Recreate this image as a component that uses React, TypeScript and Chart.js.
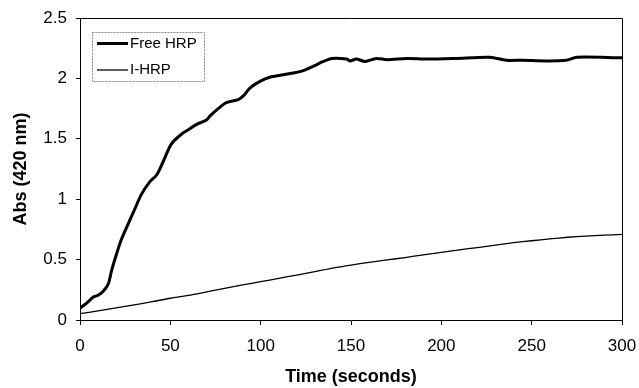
import React, { useEffect, useRef } from "react";
import { Chart, registerables } from "chart.js";

Chart.register(...registerables);

// Free HRP: time (s) and absorbance at 420 nm
const freeTime = [0, 3.7, 7.4, 10, 13, 15.7, 17.5, 20.3, 23, 26.8, 29.5, 34, 38.7, 42.4, 46, 50.7, 56.3, 61, 64.6, 70, 72, 76.5, 81, 87.6, 90.4, 94, 99.6, 105, 112.5, 118, 123.6, 129, 134.7, 139.3, 147.6, 149.5, 153, 157.8, 164, 170, 181, 192, 208.5, 217, 227, 236, 245, 258, 269, 275, 300];
const freeAbs = [0.1, 0.14, 0.19, 0.205, 0.24, 0.3, 0.41, 0.55, 0.67, 0.8, 0.89, 1.04, 1.145, 1.2, 1.31, 1.46, 1.54, 1.585, 1.62, 1.655, 1.69, 1.75, 1.8, 1.825, 1.855, 1.92, 1.975, 2.01, 2.03, 2.045, 2.065, 2.1, 2.14, 2.165, 2.16, 2.145, 2.16, 2.14, 2.165, 2.155, 2.165, 2.16, 2.165, 2.17, 2.175, 2.15, 2.15, 2.145, 2.15, 2.175, 2.17];

// I-HRP: time (s) and absorbance at 420 nm
const ihrpTime = [0, 10, 20, 30, 40, 50, 60, 70, 80, 90, 100, 110, 120, 130, 140, 150, 160, 170, 180, 190, 200, 210, 220, 230, 240, 250, 260, 270, 280, 290, 300];
const ihrpAbs = [0.052, 0.075, 0.1, 0.125, 0.152, 0.18, 0.203, 0.232, 0.262, 0.29, 0.317, 0.345, 0.372, 0.4, 0.43, 0.455, 0.477, 0.497, 0.517, 0.54, 0.56, 0.58, 0.6, 0.62, 0.64, 0.656, 0.671, 0.685, 0.695, 0.702, 0.708];

const seriesLabels = ["Free HRP", "I-HRP"];
const xTitle = "Time (seconds)";
const yTitle = "Abs (420 nm)";
const xMin = 0, xMax = 300, xStep = 50;
const yMin = 0, yMax = 2.5, yStep = 0.5;

const FONT = "'Liberation Sans', Arial, sans-serif";

const boxPlugin = {
  id: "boxAndLegend",
  afterDraw(chart: any) {
    const { ctx, chartArea } = chart;
    ctx.save();
    ctx.strokeStyle = "#000";
    ctx.lineWidth = 1;
    ctx.beginPath();
    ctx.moveTo(chartArea.left, chartArea.top + 0.5);
    ctx.lineTo(chartArea.right + 0.5, chartArea.top + 0.5);
    ctx.lineTo(chartArea.right + 0.5, chartArea.bottom);
    ctx.stroke();

    // legend box
    const lx = 92, ly = 32, lw = 112, lh = 49;
    ctx.strokeStyle = "#888";
    ctx.setLineDash([2, 1]);
    ctx.strokeRect(lx + 0.5, ly + 0.5, lw, lh);
    ctx.setLineDash([]);
    const rows = [43.5, 70];
    chart.data.datasets.forEach((ds: any, i: number) => {
      const y = rows[i];
      ctx.strokeStyle = ds.borderColor;
      ctx.lineWidth = ds.borderWidth;
      ctx.beginPath();
      ctx.moveTo(97, y);
      ctx.lineTo(128, y);
      ctx.stroke();
      ctx.fillStyle = "#000";
      ctx.font = `15px ${FONT}`;
      ctx.textBaseline = "middle";
      ctx.textAlign = "left";
      ctx.fillText(ds.label, 130, y);
    });
    ctx.restore();
  },
};

export default function App() {
  const ref = useRef<HTMLCanvasElement | null>(null);
  useEffect(() => {
    if (!ref.current) return;
    const chart = new Chart(ref.current, {
      type: "line",
      data: {
        datasets: [
          {
            label: seriesLabels[0],
            data: freeTime.map((t, i) => ({ x: t, y: freeAbs[i] })),
            borderColor: "#000",
            borderWidth: 3,
            pointRadius: 0,
            tension: 0.3,
            fill: false,
          },
          {
            label: seriesLabels[1],
            data: ihrpTime.map((t, i) => ({ x: t, y: ihrpAbs[i] })),
            borderColor: "#000",
            borderWidth: 1.3,
            pointRadius: 0,
            tension: 0.2,
            fill: false,
          },
        ],
      },
      options: {
        animation: false,
        responsive: false,
        layout: { padding: { top: 18, right: 17, left: 0, bottom: 0 } },
        plugins: { legend: { display: false }, tooltip: { enabled: false } },
        scales: {
          x: {
            type: "linear",
            min: xMin,
            max: xMax,
            afterFit: (s: any) => { s.height = 68; s.paddingLeft = 0; s.paddingRight = 0; },
            ticks: { stepSize: xStep, color: "#000", padding: 11, maxRotation: 0, font: { family: FONT, size: 17 }, callback: (v: any) => `${v}` },
            grid: { drawOnChartArea: false, drawTicks: true, tickLength: 5, color: "#000" },
            border: { display: true, color: "#000", width: 1 },
            title: { display: true, text: xTitle, color: "#000", padding: { top: 0, bottom: 0 }, font: { family: FONT, size: 18, weight: "bold" } },
          },
          y: {
            type: "linear",
            min: yMin,
            max: yMax,
            afterFit: (s: any) => { s.width = 80; s.paddingTop = 0; s.paddingBottom = 0; },
            ticks: { stepSize: yStep, color: "#000", padding: 9, font: { family: FONT, size: 17 }, callback: (v: any) => `${v}` },
            grid: { drawOnChartArea: false, drawTicks: true, tickLength: 4, color: "#000" },
            border: { display: true, color: "#000", width: 1 },
            title: { display: true, text: yTitle, color: "#000", padding: { top: 10, bottom: 0 }, font: { family: FONT, size: 18, weight: "bold" } },
          },
        },
      },
      plugins: [boxPlugin],
    });
    return () => chart.destroy();
  }, []);
  return (
    <div style={{ position: "fixed", left: 0, top: 0, width: 639, height: 388, background: "#fff" }}>
      <canvas ref={ref} width={639} height={388} style={{ width: 639, height: 388, display: "block" }} />
    </div>
  );
}
